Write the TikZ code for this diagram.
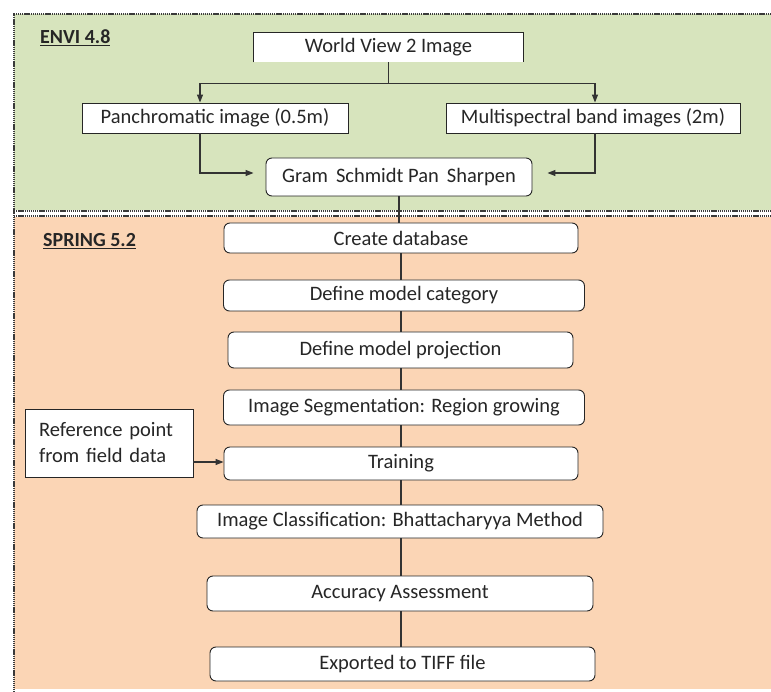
\documentclass[tikz,border=0pt]{standalone}
\usepackage{fontspec}
\setmainfont{Carlito}
\usetikzlibrary{arrows.meta}
\definecolor{envigreen}{HTML}{D7E4BD}
\definecolor{springorange}{HTML}{FBD5B5}
\definecolor{dotgray}{HTML}{3A3A3A}
\begin{document}
\begin{tikzpicture}[x=1pt,y=-1pt,
  base/.style={draw=black!85, fill=white, line width=0.9pt, inner sep=0pt, align=center,
    font=\fontsize{20.5}{24}\selectfont, text=black!85},
  sqbox/.style={base},
  rbox/.style={base, rounded corners=6pt},
  dotline/.style={dotgray, line width=2pt, dash pattern=on 1.3pt off 0.8pt},
  conn/.style={draw=black!80, line width=1.1pt},
  arr/.style={conn, -{Triangle[length=8pt,width=6pt]}},
  lbl/.style={font=\fontsize{20}{24}\selectfont\bfseries, text=black!85, inner sep=0pt, anchor=west}
]
\useasboundingbox (0,0) rectangle (771,692);
% panels
\fill[envigreen] (14,14) rectangle (771,210);
\fill[white] (14,210) rectangle (771,217);
\fill[springorange] (14,217) rectangle (771,689);
\draw[dotline] (771,14) -- (14,14) -- (14,692);
\draw[dotline] (14,211.5) -- (771,211.5);
\draw[dotline] (14,216.5) -- (771,216.5);
% labels
\node[lbl] (envi) at (40,38) {\underline{ENVI 4.8}};
\node[lbl] (spring) at (43,241) {\underline{SPRING 5.2}};
% ENVI nodes
\node[sqbox, draw=none, minimum width=269pt, minimum height=29pt] (wv) at (388.5,47.5) {World View 2 Image};
\draw[black!85, line width=0.9pt] (wv.south west) |- (wv.north east) -- (wv.south east);
\node[sqbox, minimum width=266pt, minimum height=30pt] (pan) at (215,118) {Panchromatic image (0.5m)};
\node[sqbox, minimum width=294pt, minimum height=30pt] (ms) at (593,118) {Multispectral band images (2m)};
\node[rbox, minimum width=266pt, minimum height=38pt] (gram) at (399,177) {Gram\, Schmidt Pan\, Sharpen};
% SPRING nodes
\node[rbox, minimum width=354pt, minimum height=30pt] (cdb) at (401,238) {Create database};
\node[rbox, minimum width=361pt, minimum height=31pt] (dmc) at (404,295.5) {Define model category};
\node[rbox, minimum width=345pt, minimum height=36pt] (dmp) at (400.5,350) {Define model projection};
\node[rbox, minimum width=361pt, minimum height=35pt] (seg) at (404,407.5) {Image Segmentation: Region growing};
\node[sqbox, minimum width=168pt, minimum height=68pt, align=left, text width=140pt, font=\fontsize{20.5}{26}\selectfont] (ref) at (109,443) {Reference point\\from field data};
\node[rbox, minimum width=354pt, minimum height=33pt] (trn) at (401,463.5) {Training};
\node[rbox, minimum width=406pt, minimum height=33pt] (cls) at (400,521.5) {Image Classification: Bhattacharyya Method};
\node[rbox, minimum width=386pt, minimum height=35pt] (acc) at (400,593.5) {Accuracy Assessment};
\node[rbox, minimum width=385pt, minimum height=34pt] (tiff) at (402.5,664) {Exported to TIFF file};
% connectors ENVI
\coordinate (br) at ([yshift=-21pt]wv.south);
\draw[conn] (wv.south) -- (br);
\draw[arr] (br) -| ([xshift=-15pt]pan.north);
\draw[arr] (br) -| ([xshift=2pt]ms.north);
\draw[arr, shorten >=12pt] ([xshift=-15pt]pan.south) |- ([yshift=4pt]gram.west);
\draw[arr, shorten >=15pt] ([xshift=2pt]ms.south) |- ([yshift=4pt]gram.east);
% vertical chain
\coordinate (vx) at (401,0);
\draw[conn] (gram.south) -- (gram.south |- cdb.north);
\draw[conn] (cdb.south -| vx) -- (vx |- dmc.north);
\draw[conn] (dmc.south -| vx) -- (vx |- dmp.north);
\draw[conn] (dmp.south -| vx) -- (vx |- seg.north);
\draw[conn] (seg.south -| vx) -- (vx |- trn.north);
\draw[conn] (trn.south -| vx) -- (vx |- cls.north);
\draw[conn] (cls.south -| vx) -- (vx |- acc.north);
\draw[conn] (acc.south -| vx) -- (vx |- tiff.north);
\draw[arr] ([yshift=-19pt]ref.east) -- ([yshift=-19pt]ref.east -| trn.west);
\end{tikzpicture}
\end{document}
